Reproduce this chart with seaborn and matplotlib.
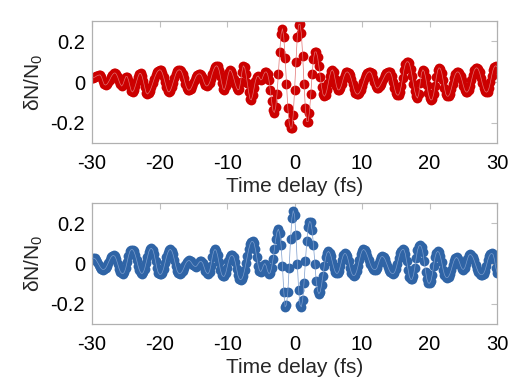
import numpy as np
import matplotlib
matplotlib.use("Agg")
import matplotlib.pyplot as plt
import seaborn as sns

# delay axis, 0.2 fs sampling
step_fs = 0.2
t_min = -30.0

# upper trace (red), one line per fs: t.0 t.2 t.4 t.6 t.8
dn_top = [
    0.020, 0.021, 0.024, 0.028, 0.032,
    0.034, 0.035, 0.025, 0.005, -0.012,
    -0.015, -0.011, -0.002, 0.010, 0.024,
    0.035, 0.043, 0.045, 0.039, 0.024,
    0.005, -0.012, -0.020, -0.010, 0.010,
    0.027, 0.027, 0.010, -0.018, -0.043,
    -0.049, -0.040, -0.020, 0.003, 0.025,
    0.041, 0.043, 0.030, 0.005, -0.025,
    -0.052, -0.059, -0.053, -0.042, -0.025,
    -0.005, 0.015, 0.033, 0.047, 0.056,
    0.060, 0.058, 0.046, 0.025, 0.000,
    -0.025, -0.045, -0.049, -0.042, -0.025,
    -0.003, 0.020, 0.040, 0.053, 0.059,
    0.060, 0.055, 0.040, 0.018, -0.008,
    -0.028, -0.039, -0.040, -0.035, -0.022,
    -0.005, 0.012, 0.027, 0.036, 0.040,
    0.040, 0.034, 0.018, -0.002, -0.016,
    -0.020, -0.016, -0.004, 0.016, 0.040,
    0.060, 0.074, 0.080, 0.077, 0.060,
    0.030, -0.005, -0.033, -0.038, -0.020,
    0.010, 0.042, 0.060, 0.055, 0.040,
    0.017, -0.008, -0.028, -0.039, -0.035,
    0.000, 0.050, 0.080, 0.072, 0.040,
    -0.005, -0.050, -0.084, -0.088, -0.065,
    -0.030, 0.005, 0.025, 0.030, 0.020,
    0.010, 0.015, 0.035, 0.048, 0.050,
    0.040, 0.010, -0.040, -0.095, -0.140,
    -0.150, -0.125, -0.060, 0.040, 0.150,
    0.235, 0.262, 0.220, 0.120, -0.010,
    -0.130, -0.200, -0.228, -0.225, -0.160,
    -0.040, 0.100, 0.220, 0.282, 0.285,
    0.240, 0.130, -0.010, -0.130, -0.195,
    -0.195, -0.150, -0.060, 0.040, 0.115,
    0.148, 0.148, 0.125, 0.080, 0.025,
    -0.025, -0.060, -0.070, -0.062, -0.038,
    -0.005, 0.030, 0.053, 0.060, 0.048,
    0.015, -0.020, -0.038, -0.039, -0.030,
    -0.010, 0.015, 0.035, 0.047, 0.050,
    0.046, 0.035, 0.015, -0.010, -0.035,
    -0.052, -0.059, -0.059, -0.053, -0.040,
    -0.022, -0.002, 0.018, 0.034, 0.045,
    0.050, 0.050, 0.042, 0.022, -0.002,
    -0.022, -0.030, -0.028, -0.020, -0.008,
    0.006, 0.020, 0.033, 0.043, 0.048,
    0.050, 0.047, 0.030, 0.000, -0.030,
    -0.055, -0.064, -0.064, -0.050, -0.020,
    0.020, 0.060, 0.088, 0.099, 0.100,
    0.092, 0.065, 0.030, -0.010, -0.045,
    -0.070, -0.079, -0.060, -0.005, 0.045,
    0.060, 0.052, 0.025, -0.015, -0.055,
    -0.080, -0.089, -0.085, -0.060, -0.020,
    0.025, 0.058, 0.070, 0.066, 0.045,
    0.010, -0.030, -0.060, -0.070, -0.069,
    -0.058, -0.035, -0.008, 0.018, 0.038,
    0.048, 0.050, 0.045, 0.030, 0.008,
    -0.018, -0.040, -0.049, -0.049, -0.040,
    -0.020, 0.008, 0.035, 0.057, 0.068,
    0.070, 0.064, 0.047, 0.022, -0.006,
    -0.030, -0.045, -0.050, -0.047, -0.030,
    -0.002, 0.032, 0.060, 0.076, 0.080,
    0.075,
]

# lower trace (blue)
dn_bottom = [
    0.022, 0.027, 0.025, 0.018, 0.007,
    -0.005, -0.017, -0.026, -0.030, -0.029,
    -0.024, -0.012, 0.003, 0.018, 0.031,
    0.038, 0.040, 0.035, 0.020, -0.002,
    -0.025, -0.042, -0.049, -0.050, -0.043,
    -0.022, 0.008, 0.038, 0.060, 0.069,
    0.069, 0.060, 0.042, 0.018, -0.010,
    -0.032, -0.046, -0.050, -0.044, -0.025,
    0.003, 0.033, 0.058, 0.072, 0.075,
    0.068, 0.045, 0.012, -0.022, -0.045,
    -0.054, -0.054, -0.045, -0.025, 0.002,
    0.030, 0.052, 0.066, 0.070, 0.064,
    0.045, 0.018, -0.012, -0.036, -0.048,
    -0.050, -0.047, -0.037, -0.022, -0.005,
    0.007, 0.013, 0.015, 0.010, 0.000,
    -0.009, -0.014, -0.015, -0.008, 0.003,
    0.010, 0.010, 0.002, -0.018, -0.038,
    -0.048, -0.050, -0.040, -0.010, 0.030,
    0.060, 0.070, 0.064, 0.040, 0.005,
    -0.030, -0.055, -0.064, -0.063, -0.048,
    -0.020, 0.010, 0.032, 0.040, 0.040,
    0.032, 0.008, -0.025, -0.058, -0.076,
    -0.080, -0.076, -0.060, -0.032, 0.002,
    0.038, 0.070, 0.095, 0.108, 0.110,
    0.100, 0.070, 0.030, -0.010, -0.035,
    -0.040, -0.028, -0.008, 0.000, -0.012,
    -0.038, -0.050, -0.045, -0.020, 0.020,
    0.070, 0.120, 0.157, 0.170, 0.150,
    0.090, -0.010, -0.140, -0.215, -0.205,
    -0.140, -0.020, 0.120, 0.225, 0.262,
    0.240, 0.140, 0.000, -0.130, -0.205,
    -0.215, -0.180, -0.095, 0.010, 0.110,
    0.180, 0.208, 0.205, 0.165, 0.090,
    0.000, -0.085, -0.135, -0.150, -0.140,
    -0.105, -0.060, -0.010, 0.030, 0.053,
    0.060, 0.054, 0.035, 0.008, -0.020,
    -0.040, -0.049, -0.048, -0.035, -0.010,
    0.018, 0.040, 0.050, 0.048, 0.035,
    0.010, -0.020, -0.045, -0.058, -0.060,
    -0.055, -0.038, -0.012, 0.018, 0.045,
    0.064, 0.070, 0.066, 0.055, 0.038,
    0.018, -0.002, -0.018, -0.027, -0.030,
    -0.030, -0.022, -0.002, 0.018, 0.032,
    0.035, 0.031, 0.020, 0.003, -0.015,
    -0.032, -0.044, -0.049, -0.050, -0.045,
    -0.028, -0.002, 0.025, 0.050, 0.064,
    0.070, 0.068, 0.048, 0.010, -0.030,
    -0.065, -0.079, -0.078, -0.060, -0.022,
    0.025, 0.065, 0.086, 0.090, 0.082,
    0.055, 0.010, -0.040, -0.078, -0.097,
    -0.098, -0.085, -0.055, -0.010, 0.030,
    0.054, 0.060, 0.055, 0.035, 0.005,
    -0.030, -0.056, -0.068, -0.070, -0.066,
    -0.052, -0.032, -0.008, 0.013, 0.026,
    0.030, 0.024, 0.008, -0.012, -0.026,
    -0.030, -0.022, -0.002, 0.022, 0.040,
    0.045, 0.042, 0.032, 0.015, -0.005,
    -0.025, -0.042, -0.052, -0.055, -0.055,
    -0.050, -0.035, -0.012, 0.015, 0.035,
    0.047, 0.050, 0.045, 0.020, -0.020,
    -0.045,
]

x_ticks = [-30, -20, -10, 0, 10, 20, 30]
y_ticks = [-0.2, 0, 0.2]
x_tick_labels = ["-30", "-20", "-10", "0", "10", "20", "30"]
y_tick_labels = ["-0.2", "0", "0.2"]

sns.set_style("white")
plt.rcParams["font.family"] = ["Liberation Sans", "DejaVu Sans"]
plt.rcParams["mathtext.default"] = "regular"
plt.rcParams["axes.unicode_minus"] = False

fig = plt.figure(figsize=(5.2, 3.86), dpi=100)
ax1 = fig.add_axes([0.177, 0.6295, 0.779, 0.316])
ax2 = fig.add_axes([0.177, 0.1606, 0.779, 0.3135])

panels = [
    (ax1, dn_top, "#cc0000", "#e27070"),
    (ax2, dn_bottom, "#2f64a6", "#7a9ccc"),
]

for ax, vals, col, linecol in panels:
    t = t_min + step_fs * np.arange(len(vals))
    sns.scatterplot(x=t, y=vals, ax=ax, color=col, s=50, linewidth=0, zorder=2)
    sns.lineplot(x=t, y=vals, ax=ax, color=linecol, lw=0.5, estimator=None,
                 sort=False, zorder=3)
    ax.set_xlim(-30, 30)
    ax.set_ylim(-0.3, 0.3)
    ax.set_xticks(x_ticks)
    ax.set_xticklabels(x_tick_labels)
    ax.set_yticks(y_ticks)
    ax.set_yticklabels(y_tick_labels)
    ax.tick_params(direction="in", length=4, width=0.8, color="#c0c0c0",
                   top=True, right=True, labelsize=14.5, labelcolor="black")
    ax.tick_params(axis="x", pad=8)
    ax.tick_params(axis="y", pad=5)
    for sp in ax.spines.values():
        sp.set_color("#b0b0b0")
        sp.set_linewidth(0.9)
    ax.set_xlabel("Time delay (fs)", fontsize=15, labelpad=3)
    ax.set_ylabel("δN/N$_0$", fontsize=15, labelpad=4)

plt.savefig("out.png", dpi=100)
